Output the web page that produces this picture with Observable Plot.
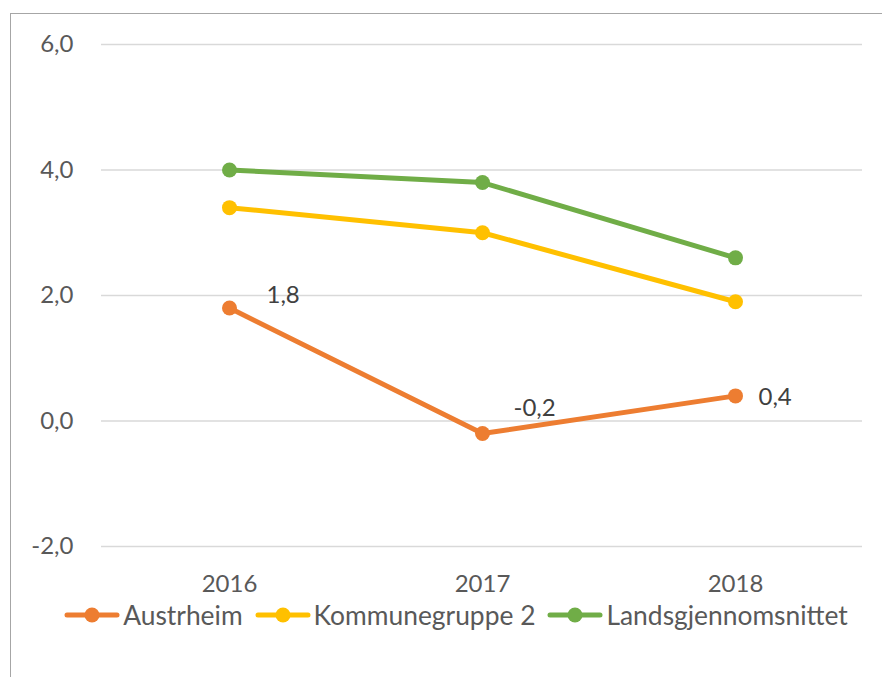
<!DOCTYPE html>
<html>
<head>
<meta charset="utf-8">
<script src="https://cdn.jsdelivr.net/npm/d3@7"></script>
<script src="https://cdn.jsdelivr.net/npm/@observablehq/plot@0.6"></script>
<style>
  html, body { margin: 0; padding: 0; background: #fff; }
  #wrap { position: relative; width: 882px; height: 677px; overflow: hidden; font-family: Lato, "Open Sans", sans-serif; }
  #frame { position: absolute; left: 10px; top: 13px; width: 880px; height: 700px; border: 1.5px solid #a6a6a6; box-sizing: border-box; }
  #chart { position: absolute; left: 0; top: 0; }
  #legend { position: absolute; left: 0; top: 600px; width: 882px; height: 30px; padding-left: 30px; box-sizing: border-box; display: flex; justify-content: center; align-items: center; font-size: 26.4px; color: #595959; }
  .item { display: flex; align-items: center; margin: 0 6px; }
  .item svg { margin-right: 3px; }
</style>
</head>
<body>
<div id="wrap">
  <div id="frame"></div>
  <div id="chart"></div>
  <div id="legend"></div>
</div>
<script>
const years = ["2016", "2017", "2018"];
const seriesNames = ["Austrheim", "Kommunegruppe 2", "Landsgjennomsnittet"];
const austrheim = [1.8, -0.2, 0.4];
const kommunegruppe2 = [3.4, 3.0, 1.9];
const landsgjennomsnittet = [4.0, 3.8, 2.6];
const colors = ["#ED7D31", "#FFC000", "#70AD47"];
const yTicks = [-2, 0, 2, 4, 6];

const seriesValues = [austrheim, kommunegruppe2, landsgjennomsnittet];
const data = [];
seriesNames.forEach((s, si) => years.forEach((y, yi) => data.push({series: s, year: y, value: seriesValues[si][yi]})));

const locale = d3.formatLocale({decimal: ",", thousands: " ", grouping: [3], currency: ["", ""], minus: "-"});
const fmt = locale.format(".1f");

const labelData = data.filter(d => d.series === "Austrheim");
const labelOffsets = [[37, -13], [31, -25], [23, 1]];

const textMarks = labelData.map((d, i) => Plot.text([d], {
  x: "year", y: "value", text: d => fmt(d.value),
  textAnchor: "start", dx: labelOffsets[i][0], dy: labelOffsets[i][1],
  fill: "#404040", fontSize: 24
}));

const chart = Plot.plot({
  width: 882,
  height: 600,
  marginLeft: 101,
  marginRight: 20,
  marginTop: 44,
  marginBottom: 54,
  style: {fontFamily: "Lato, 'Open Sans', sans-serif", fontSize: "24px", color: "#595959", background: "transparent"},
  x: {type: "point", domain: years, padding: 0.5, label: null},
  y: {domain: [-2, 6], label: null},
  color: {domain: seriesNames, range: colors},
  marks: [
    Plot.gridY(yTicks, {stroke: "#d9d9d9", strokeOpacity: 1, strokeWidth: 1.5}),
    Plot.axisY(yTicks, {tickSize: 0, tickPadding: 28, tickFormat: fmt, fontSize: 24, fill: "#595959"}),
    Plot.axisX({tickSize: 0, tickPadding: 28, fontSize: 24, fill: "#595959"}),
    Plot.line(data, {x: "year", y: "value", stroke: "series", z: "series", strokeWidth: 5, strokeLinecap: "round"}),
    Plot.dot(data, {x: "year", y: "value", fill: "series", r: 7.5, stroke: null}),
    ...textMarks
  ]
});
document.getElementById("chart").appendChild(chart);

const legend = document.getElementById("legend");
seriesNames.forEach((s, i) => {
  const item = document.createElement("div");
  item.className = "item";
  item.innerHTML = `<svg width="56" height="20"><line x1="3" y1="10" x2="53" y2="10" stroke="${colors[i]}" stroke-width="5" stroke-linecap="round"/><circle cx="28" cy="10" r="7.5" fill="${colors[i]}"/></svg><span>${s}</span>`;
  legend.appendChild(item);
});
</script>
</body>
</html>
